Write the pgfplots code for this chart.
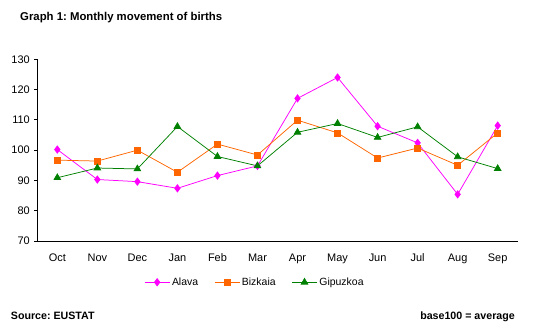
\documentclass[border=0pt]{standalone}
\usepackage{pgfplots}
\pgfplotsset{compat=1.18}
\usepackage{fontspec}
\setmainfont{Liberation Sans}
\frenchspacing
\definecolor{cAlava}{RGB}{255,0,255}
\definecolor{cBiz}{RGB}{255,102,0}
\definecolor{cGip}{RGB}{0,128,0}
\begin{document}
\frenchspacing
\begin{tikzpicture}
\begin{axis}[
  at={(0,0)}, anchor=south west,
  scale only axis, width=480.4bp, height=181.7bp,
  xmin=-0.5, xmax=11.5, ymin=70, ymax=130,
  xtick={0,...,11},
  xticklabels={Oct,Nov,Dec,Jan,Feb,Mar,Apr,May,Jun,Jul,Aug,Sep},
  ytick={70,80,...,130},
  axis x line*=bottom, axis y line*=left,
  axis line style={black, line width=0.75bp, -},
  x tick style={draw=none},
  y tick style={black, line width=0.75bp},
  tick align=outside, major tick length=3bp,
  /pgf/number format/assume math mode=true,
  tick label style={font=\fontsize{11}{12}\selectfont},
  xticklabel style={yshift=-6bp},
  yticklabel style={xshift=-1bp},
  legend style={draw=none, fill=none, at={(0.453,-0.227)}, anchor=center,
    font=\fontsize{10.5}{12}\selectfont, /tikz/every even column/.append style={column sep=14bp}},
  legend columns=-1,
  legend image code/.code={
    \draw[mark repeat=2,mark phase=2] plot coordinates {(0bp,0bp) (12.5bp,0bp) (25bp,0bp)};},
  every axis plot/.append style={line width=0.75bp},
  clip=false,
]
\addplot[color=cAlava, mark=diamond*, mark size=3.6bp, mark options={fill=cAlava, draw=cAlava}] coordinates {
(0,100.2) (1,90.3) (2,89.6) (3,87.4) (4,91.6) (5,94.8) (6,117.1) (7,124.0) (8,107.9) (9,102.4) (10,85.4) (11,108.1)};
\addlegendentry{Alava}
\addplot[color=cBiz, mark=square*, mark size=3bp, mark options={fill=cBiz, draw=cBiz}] coordinates {
(0,96.7) (1,96.4) (2,100.0) (3,92.7) (4,102.0) (5,98.4) (6,109.9) (7,105.7) (8,97.4) (9,100.7) (10,95.0) (11,105.7)};
\addlegendentry{Bizkaia}
\addplot[color=cGip, mark=triangle*, mark size=3.8bp, mark options={fill=cGip, draw=cGip}] coordinates {
(0,90.9) (1,94.1) (2,93.8) (3,107.8) (4,97.9) (5,94.8) (6,105.9) (7,108.8) (8,104.2) (9,107.7) (10,97.8) (11,93.9)};
\addlegendentry{Gipuzkoa}
\end{axis}
\node[anchor=base west, inner sep=0, font=\fontsize{11.4}{13}\selectfont\bfseries] at (-17.3bp,220.5bp) {Graph 1: Monthly movement of births};
\node[anchor=base west, inner sep=0, font=\fontsize{10.7}{12}\selectfont\bfseries] at (-26.6bp,-78.3bp) {Source: EUSTAT};
\node[anchor=base east, inner sep=0, font=\fontsize{10.7}{12}\selectfont\bfseries] at (477.7bp,-78.3bp) {base100 = average};
\pgfresetboundingbox
\useasboundingbox (-37.3bp,-91bp) rectangle (500.7bp,241bp);
\end{tikzpicture}
\end{document}
